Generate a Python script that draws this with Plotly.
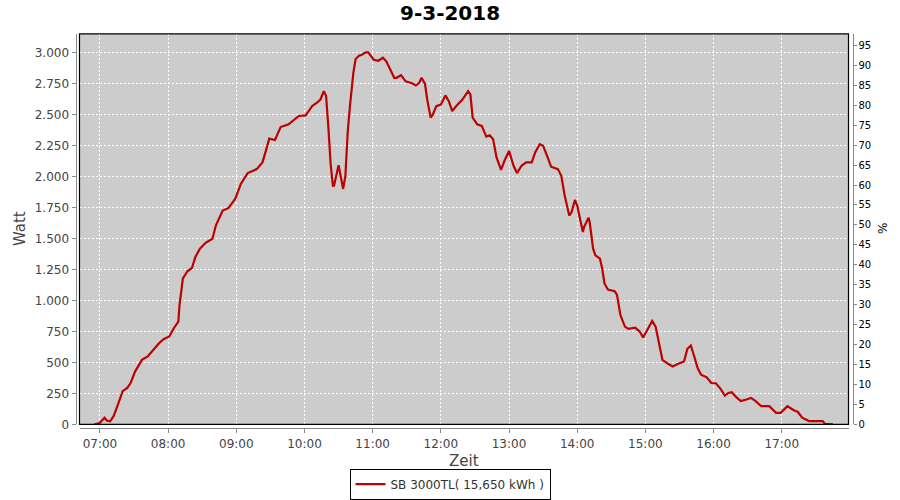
import plotly.graph_objects as go

DAY = "2018-03-09"

times = [
    "06:55", "07:00", "07:04", "07:06", "07:09", "07:12", "07:15", "07:20", "07:24", "07:27",
    "07:31", "07:37", "07:42", "07:47", "07:52", "07:56", "08:01", "08:05", "08:09", "08:10",
    "08:12", "08:13", "08:17", "08:21", "08:24", "08:28", "08:33", "08:39", "08:42", "08:48",
    "08:53", "08:59", "09:04", "09:10", "09:18", "09:23", "09:26", "09:29", "09:34", "09:39",
    "09:46", "09:55", "10:01", "10:07", "10:11", "10:14", "10:17", "10:19", "10:21", "10:23",
    "10:25", "10:26", "10:30", "10:32", "10:34", "10:36", "10:38", "10:40", "10:43", "10:45",
    "10:48", "10:50", "10:54", "10:56", "11:01", "11:05", "11:09", "11:12", "11:15", "11:19",
    "11:21", "11:25", "11:29", "11:34", "11:38", "11:41", "11:43", "11:46", "11:48", "11:51",
    "11:53", "11:56", "12:00", "12:04", "12:07", "12:10", "12:14", "12:19", "12:24", "12:26",
    "12:28", "12:32", "12:36", "12:40", "12:43", "12:46", "12:49", "12:53", "12:56", "13:00",
    "13:04", "13:07", "13:11", "13:15", "13:20", "13:23", "13:27", "13:30", "13:34", "13:37",
    "13:43", "13:46", "13:49", "13:53", "13:55", "13:58", "14:00", "14:05", "14:06", "14:10",
    "14:11", "14:14", "14:16", "14:20", "14:22", "14:24", "14:27", "14:33", "14:35", "14:38",
    "14:42", "14:45", "14:51", "14:55", "14:58", "15:01", "15:06", "15:09", "15:12", "15:15",
    "15:20", "15:24", "15:29", "15:34", "15:37", "15:40", "15:43", "15:46", "15:49", "15:54",
    "15:58", "16:02", "16:06", "16:10", "16:13", "16:16", "16:20", "16:24", "16:29", "16:33",
    "16:37", "16:42", "16:49", "16:55", "16:59", "17:05", "17:11", "17:14", "17:18", "17:24",
    "17:36", "17:38", "17:45",
]

watt = [
    0, 14, 54, 32, 25, 67, 140, 268, 294, 334,
    428, 521, 548, 600, 655, 687, 709, 776, 829, 963,
    1097, 1177, 1235, 1262, 1351, 1417, 1465, 1498, 1604, 1725,
    1744, 1819, 1939, 2027, 2059, 2113, 2206, 2305, 2294, 2398,
    2420, 2487, 2492, 2570, 2594, 2620, 2687, 2650, 2400, 2100,
    1925, 1925, 2091, 2005, 1899, 2005, 2353, 2567, 2835, 2947,
    2973, 2979, 3000, 3000, 2941, 2933, 2957, 2928, 2875, 2795,
    2795, 2816, 2767, 2754, 2733, 2754, 2795, 2748, 2620, 2474,
    2500, 2567, 2580, 2653, 2607, 2527, 2572, 2620, 2687, 2661,
    2474, 2420, 2407, 2321, 2332, 2300, 2153, 2053, 2126, 2206,
    2086, 2027, 2086, 2113, 2113, 2193, 2260, 2247, 2153, 2078,
    2059, 2005, 1845, 1684, 1711, 1810, 1765, 1551, 1591, 1666,
    1630, 1417, 1364, 1337, 1257, 1137, 1088, 1075, 1045, 882,
    789, 770, 780, 749, 701, 749, 834, 789, 642, 521,
    489, 468, 489, 508, 610, 637, 548, 455, 401, 380,
    334, 332, 289, 233, 254, 260, 220, 188, 201, 214,
    188, 147, 147, 94, 94, 147, 112, 102, 54, 27,
    27, 5, 0,
]

series_name = "SB 3000TL( 15,650 kWh )"
title_text = "9-3-2018"
y_title = "Watt"
x_title = "Zeit"
y2_title = "%"

x_vals = [f"{DAY} {t}" for t in times]

W, H = 900, 500
PX_L, PX_R, PX_T, PX_B = 79.5, 848.5, 34, 427


def px(x):
    return x / W


def py(y):
    return 1 - y / H


fig = go.Figure()
fig.add_trace(go.Scatter(
    x=x_vals, y=watt, mode="lines", name=series_name,
    line=dict(color="#BD0000", width=2.2), xaxis="x", yaxis="y",
))
fig.add_trace(go.Scatter(
    x=[x_vals[0]], y=[0], mode="lines", showlegend=False, hoverinfo="skip",
    opacity=0, xaxis="x", yaxis="y2",
))

tick_font = dict(family="DejaVu Sans", size=12, color="#444444")

fig.update_layout(
    width=W, height=H,
    margin=dict(l=0, r=0, t=0, b=0),
    paper_bgcolor="white",
    plot_bgcolor="#CCCCCC",
    separators=",.",
    showlegend=True,
    legend=dict(
        x=0.5, y=py(487), xanchor="center", yanchor="middle",
        orientation="h", bordercolor="black", borderwidth=1,
        bgcolor="white", font=dict(family="DejaVu Sans", size=12, color="#333333"),
        itemwidth=30,
    ),
    xaxis=dict(
        domain=[px(PX_L), px(PX_R)],
        anchor="free", position=py(431),
        type="date",
        range=[f"{DAY} 06:42", f"{DAY} 17:58:45"],
        tick0=f"{DAY} 07:00", dtick=3600000, tickformat="%H:%M",
        showline=True, linecolor="#888888", linewidth=1,
        ticks="outside", ticklen=4, tickcolor="#888888",
        tickfont=tick_font,
        showgrid=True, gridcolor="white", gridwidth=1, griddash="2px,2px",
        zeroline=False, automargin=False,
    ),
    yaxis=dict(
        domain=[py(PX_B), py(PX_T)],
        anchor="free", position=px(75.5),
        range=[0, 3150], dtick=250, tick0=0, tickformat=",d",
        showline=True, linecolor="#888888", linewidth=1,
        ticks="outside", ticklen=4, tickcolor="#888888",
        tickfont=tick_font,
        showgrid=True, gridcolor="white", gridwidth=1, griddash="2px,2px",
        zeroline=False, automargin=False,
    ),
    yaxis2=dict(
        overlaying="y", side="right",
        anchor="free", position=px(852.5),
        range=[0, 97.9], dtick=5, tick0=0,
        showline=True, linecolor="#888888", linewidth=1,
        ticks="outside", ticklen=3, tickcolor="#888888",
        tickfont=dict(family="DejaVu Sans", size=10, color="black"),
        showgrid=False, zeroline=False, automargin=False,
    ),
    shapes=[dict(
        type="rect", xref="paper", yref="paper",
        x0=px(PX_L), x1=px(PX_R), y0=py(PX_B), y1=py(PX_T),
        line=dict(color="black", width=1.2), fillcolor="rgba(0,0,0,0)",
        layer="above",
    )],
    annotations=[
        dict(text=f"<b>{title_text}</b>", x=0.5, y=py(13), xref="paper", yref="paper",
             showarrow=False, xanchor="center", yanchor="middle",
             font=dict(family="DejaVu Sans", size=20, color="black")),
        dict(text=y_title, x=px(20), y=py(230.5), xref="paper", yref="paper",
             showarrow=False, textangle=-90, xanchor="center", yanchor="middle",
             font=dict(family="DejaVu Sans", size=15, color="#444444")),
        dict(text=x_title, x=px(464), y=py(464), xref="paper", yref="paper",
             showarrow=False, xanchor="center", yanchor="middle",
             font=dict(family="DejaVu Sans", size=15, color="#444444")),
        dict(text=y2_title, x=px(882.5), y=py(230), xref="paper", yref="paper",
             showarrow=False, textangle=-90, xanchor="center", yanchor="middle",
             font=dict(family="DejaVu Sans", size=12, color="black")),
    ],
)

fig.write_html(
    "out.html",
    config={"displayModeBar": False},
    post_script="document.body.style.margin='0';document.body.style.padding='0';",
)
